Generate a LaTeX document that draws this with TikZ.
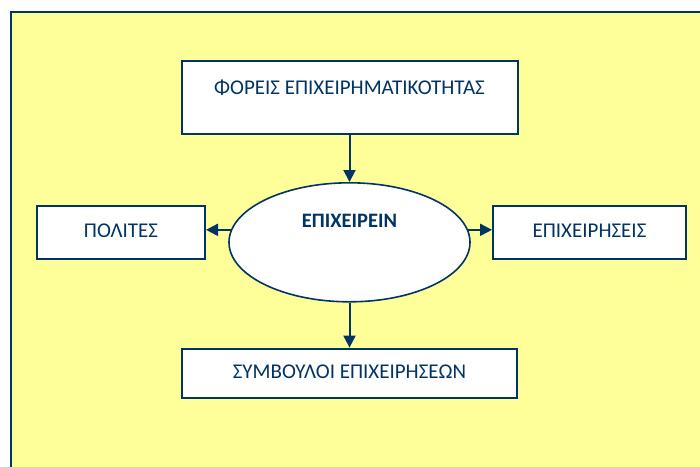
\documentclass[tikz,border=0pt]{standalone}
\usepackage{fontspec}
\setmainfont{Carlito}
\usetikzlibrary{positioning, shapes.geometric, arrows.meta}

\definecolor{navy}{RGB}{0,51,102}
\definecolor{paper}{RGB}{255,255,153}

\begin{document}
\begin{tikzpicture}[x=1pt, y=-1pt, node distance=1mm,
        frame/.style={draw=navy, line width=2.4pt, fill=paper},
        actor/.style={draw=navy, line width=2pt, fill=white, inner sep=0pt,
            text=navy, font=\fontsize{21}{24}\selectfont},
        flow/.style={navy, line width=2pt, -{Triangle[length=12pt, width=12pt]}}]
                \useasboundingbox (0,0) rectangle (700,466);
                \draw[frame] (11,12) rectangle (720,480);
                \node[actor, minimum width=336pt, text height=33pt, text depth=40pt] (foreis) at (349.5,97.5) {ΦΟΡΕΙΣ ΕΠΙΧΕΙΡΗΜΑΤΙΚΟΤΗΤΑΣ};
                \node[actor, ellipse, line width=1.6pt, minimum width=241pt, minimum height=119pt,
                    text height=20pt, text depth=49pt, font=\fontsize{20.5}{24}\selectfont\bfseries,
                    below = 47pt of foreis] (epix) {ΕΠΙΧΕΙΡΕΙΝ};
                \node[actor, minimum width=168pt, text height=31pt, text depth=22pt] (polites) at (121,232.5) {ΠΟΛΙΤΕΣ};
                \node[actor, minimum width=193pt, text height=31pt, text depth=22pt] (epixeiriseis) at (589.5,232.5) {ΕΠΙΧΕΙΡΗΣΕΙΣ};
                \node[actor, minimum width=335pt, text height=30pt, text depth=19pt, below = 45pt of epix] (symvouloi) {ΣΥΜΒΟΥΛΟΙ ΕΠΙΧΕΙΡΗΣΕΩΝ};
                \draw[flow] (foreis) -- (epix);
                \draw[flow] (epix.174) -- (epix.174 -| polites.east);
                \draw[flow] (epix.6) -- (epix.6 -| epixeiriseis.west);
                \draw[flow] (epix) -- (symvouloi);
            \end{tikzpicture}
\end{document}
